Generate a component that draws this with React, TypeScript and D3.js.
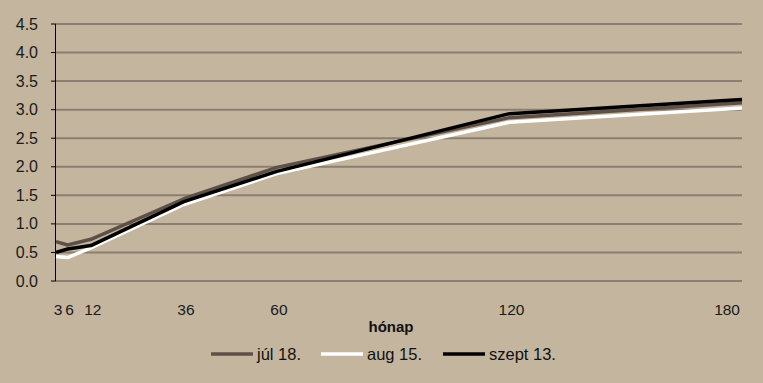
import React from "react";
import * as d3 from "d3";

const months = [3, 6, 12, 36, 60, 120, 180];
const tickLabels = ["3", "6", "12", "36", "60", "120", "180"];
const yTicks = [0, 0.5, 1, 1.5, 2, 2.5, 3, 3.5, 4, 4.5];
const jul18 = [0.69, 0.63, 0.73, 1.44, 1.99, 2.86, 3.12];
const aug15 = [0.43, 0.41, 0.58, 1.34, 1.88, 2.78, 3.03];
const szept13 = [0.5, 0.56, 0.62, 1.39, 1.92, 2.93, 3.18];
const seriesNames = ["júl 18.", "aug 15.", "szept 13."];
const seriesColors = ["#5e5046", "#ffffff", "#000000"];

const W = 763;
const H = 383;
const font = "'Liberation Sans', Arial, sans-serif";

export default function App() {
  const x = d3.scaleLinear().domain([3, 180]).range([56, 742]);
  const y = d3.scaleLinear().domain([0, 4.5]).range([281, 24]);
  const line = d3
    .line<number>()
    .x((_, i) => x(months[i]))
    .y((d) => y(d));
  const series = [jul18, aug15, szept13];
  const legendX = [211, 321, 443];

  return (
    <svg
      width={W}
      height={H}
      style={{ position: "absolute", left: 0, top: 0, display: "block" }}
      fontFamily={font}
    >
      <rect x={0} y={0} width={W} height={H} fill="#c4b59e" />
      {yTicks.map((t) => (
        <g key={t}>
          {t > 0 && (
            <line x1={56} x2={742} y1={y(t)} y2={y(t)} stroke="#8a7f72" strokeWidth={2} />
          )}
          <line x1={51} x2={56} y1={y(t)} y2={y(t)} stroke="#000" strokeWidth={1} />
          <text x={38} y={y(t) + 5.5} fontSize={16} textAnchor="end" fill="#1a1a1a">
            {t.toFixed(1)}
          </text>
        </g>
      ))}
      <line x1={56} x2={742} y1={y(0)} y2={y(0)} stroke="#8a7f72" strokeWidth={2} />
      <line x1={55.5} x2={55.5} y1={y(4.5)} y2={y(0)} stroke="#000" strokeWidth={1} />
      {months.map((m, i) => (
        <text
          key={m}
          x={i === months.length - 1 ? x(m) - 2 : x(m) + 2}
          y={315}
          fontSize={15.5}
          textAnchor={i === months.length - 1 ? "end" : "middle"}
          fill="#1a1a1a"
        >
          {tickLabels[i]}
        </text>
      ))}
      <text x={391} y={332} fontSize={15} fontWeight="bold" textAnchor="middle" fill="#111">
        hónap
      </text>
      {series.map((s, i) => (
        <path
          key={i}
          d={line(s) || ""}
          fill="none"
          stroke={seriesColors[i]}
          strokeWidth={3.5}
          strokeLinejoin="round"
        />
      ))}
      {seriesNames.map((n, i) => (
        <g key={n}>
          <line
            x1={legendX[i]}
            x2={legendX[i] + 42}
            y1={354}
            y2={354}
            stroke={seriesColors[i]}
            strokeWidth={3.5}
          />
          <text x={legendX[i] + 46} y={360} fontSize={16.5} fill="#111">
            {n}
          </text>
        </g>
      ))}
    </svg>
  );
}
